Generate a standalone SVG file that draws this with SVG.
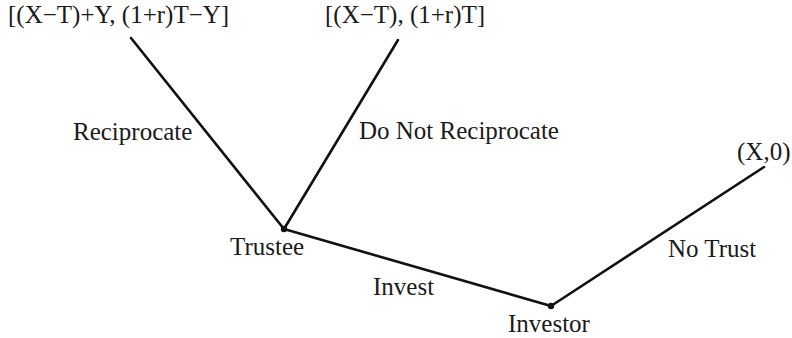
<svg xmlns="http://www.w3.org/2000/svg" width="792" height="338" viewBox="0 0 792 338">
<style>
text { font-family: "Liberation Serif", "Times New Roman", serif; font-size: 25px; fill: #1a1a1a; }
.edge { stroke: #111; stroke-width: 2.6; fill: none; stroke-linecap: round; }
.dot { fill: #111; }
</style>
<rect width="792" height="338" fill="#fff"/>
<g id="connectors">
<line class="edge" x1="131" y1="38" x2="284" y2="229"/>
<line class="edge" x1="398" y1="40" x2="284" y2="229"/>
<line class="edge" x1="284" y1="229" x2="551" y2="306"/>
<line class="edge" x1="551" y1="306" x2="764" y2="167"/>
<text x="73" y="140">Reciprocate</text>
<text x="359" y="139">Do Not Reciprocate</text>
<text x="373" y="295">Invest</text>
<text x="668" y="257">No Trust</text>
</g>
<g id="payoff-reciprocate"><text x="8" y="23">[(X−T)+Y, (1+r)T−Y]</text></g>
<g id="payoff-not-reciprocate"><text x="325" y="23">[(X−T), (1+r)T]</text></g>
<g id="payoff-no-trust"><text x="737" y="160">(X,0)</text></g>
<g id="trustee"><circle class="dot" cx="284" cy="229" r="3.2"/><text x="230" y="255">Trustee</text></g>
<g id="investor"><circle class="dot" cx="551" cy="306" r="3.2"/><text x="508" y="332">Investor</text></g>
</svg>
